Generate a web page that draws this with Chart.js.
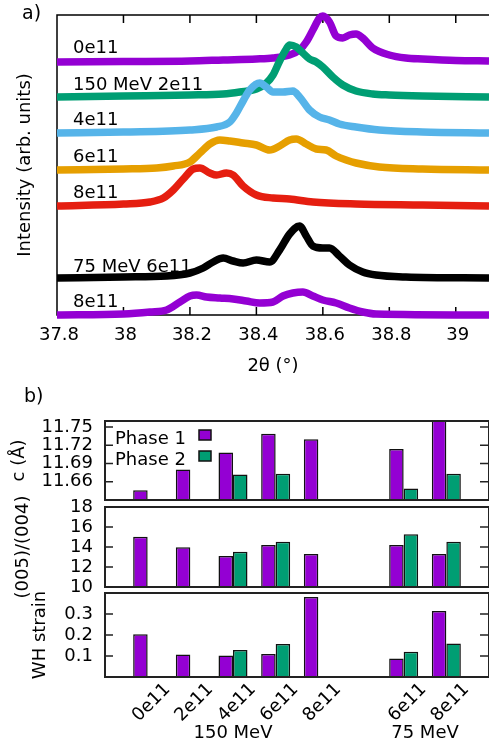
<!DOCTYPE html>
<html><head><meta charset="utf-8">
<script src="https://cdn.jsdelivr.net/npm/chart.js@4/dist/chart.umd.min.js"></script>
<style>
html,body{margin:0;padding:0;background:#fff;}
#wrap{position:relative;width:489px;height:744px;overflow:hidden;background:#fff;}
canvas{position:absolute;left:0;}
</style></head><body>
<div id="wrap">
<canvas id="cA" style="top:0px" width="489" height="380"></canvas>
<canvas id="cB1" style="top:380px" width="489" height="364"></canvas>
<canvas id="cB2" style="top:380px" width="489" height="364"></canvas>
<canvas id="cB3" style="top:380px" width="489" height="364"></canvas>
</div>
<script>
// ---------- panel a) data: [2theta, intensity above own baseline] ----------
const xrd_150_0e11 = [[37.8,0],[38.0,0.5],[38.2,1],[38.3,2],[38.4,3],[38.45,4],[38.5,7],[38.53,12],[38.55,20],[38.57,32],[38.59,44],[38.6,46],[38.62,40],[38.64,26],[38.66,24],[38.68,27],[38.7,28],[38.72,24],[38.75,14],[38.8,7],[38.85,4],[38.9,3],[39.0,1.5],[39.1,1]];
const xrd_150_2e11 = [[37.8,0],[38.0,1],[38.2,2],[38.3,3],[38.35,5],[38.4,8],[38.43,14],[38.45,22],[38.47,36],[38.49,48],[38.5,52],[38.52,50],[38.54,44],[38.56,38],[38.58,35],[38.6,30],[38.63,20],[38.66,12],[38.7,6],[38.75,3],[38.8,2],[38.9,1],[39.1,0]];
const xrd_150_4e11 = [[37.8,0],[38.0,1],[38.2,3],[38.28,6],[38.32,11],[38.34,20],[38.36,32],[38.38,43],[38.41,50],[38.43,46],[38.45,41],[38.48,41],[38.51,42],[38.53,36],[38.56,23],[38.59,16],[38.62,13],[38.65,9],[38.7,6],[38.77,3],[38.9,1],[39.1,0]];
const xrd_150_6e11 = [[37.8,0],[38.0,1],[38.1,2],[38.15,4],[38.2,8],[38.23,17],[38.26,26],[38.29,30],[38.32,29],[38.36,27],[38.4,25],[38.44,20],[38.47,24],[38.5,30],[38.52,31],[38.55,26],[38.58,21],[38.61,20],[38.64,14],[38.67,10],[38.7,7],[38.77,3],[38.9,1],[39.1,0]];
const xrd_150_8e11 = [[37.8,0],[38.0,2],[38.08,4],[38.12,8],[38.15,16],[38.18,27],[38.21,37],[38.23,38],[38.26,33],[38.28,31],[38.31,33],[38.33,31],[38.36,20],[38.4,11],[38.45,8],[38.5,7],[38.57,4],[38.7,2],[38.9,1],[39.1,0]];
const xrd_75_6e11 = [[37.8,0],[38.0,1],[38.13,2],[38.2,5],[38.24,10],[38.27,16],[38.3,20],[38.33,17],[38.36,15],[38.4,18],[38.44,16],[38.47,28],[38.5,44],[38.53,52],[38.55,42],[38.57,32],[38.6,30],[38.62,30],[38.65,22],[38.68,13],[38.72,6],[38.76,3],[38.85,1],[39.1,0]];
const xrd_75_8e11 = [[37.8,0],[38.0,1],[38.08,3],[38.13,5],[38.17,13],[38.2,19],[38.22,20],[38.25,18],[38.29,17],[38.33,16],[38.37,14],[38.41,12],[38.45,13],[38.48,19],[38.51,22],[38.54,23],[38.57,19],[38.6,15],[38.64,12],[38.68,7],[38.72,3],[38.76,1],[39.1,0]];
const curves = [xrd_150_0e11, xrd_150_2e11, xrd_150_4e11, xrd_150_6e11, xrd_150_8e11, xrd_75_6e11, xrd_75_8e11];
const curveOffsets = [253, 218, 182, 145, 109, 37, 0];
const curveLabels = ['0e11', '150 MeV 2e11', '4e11', '6e11', '8e11', '75 MeV 6e11', '8e11'];
const curveColors = ['#9400d3', '#009e73', '#56b4e9', '#e69f00', '#e51e10', '#000000', '#9400d3'];
const xTicksA = [37.8, 38, 38.2, 38.4, 38.6, 38.8, 39];

// ---------- panel b) data ----------
const categories = ['', '0e11', '2e11', '4e11', '6e11', '8e11', '', '6e11', '8e11', ''];
const c_phase1 = [null, 11.646, 11.680, 11.708, 11.739, 11.730, null, 11.714, 11.768, null];
const c_phase2 = [null, null, null, 11.672, 11.673, null, null, 11.649, 11.673, null];
const ratio_phase1 = [null, 15.03, 13.97, 13.1, 14.2, 13.3, null, 14.2, 13.3, null];
const ratio_phase2 = [null, null, null, 13.53, 14.53, null, null, 15.27, 14.53, null];
const wh_phase1 = [null, 0.203, 0.107, 0.102, 0.109, 0.381, null, 0.088, 0.314, null];
const wh_phase2 = [null, null, null, 0.128, 0.157, null, null, 0.12, 0.16, null];
const cTicks = [11.66, 11.69, 11.72, 11.75];
const ratioTicks = [10, 12, 14, 16, 18];
const whTicks = [0.1, 0.2, 0.3];
const groupLabels = [['150 MeV', 3], ['75 MeV', 7.5]];

const PURPLE = '#9400d3', GREEN = '#009e73';
const FONT = '"DejaVu Sans", sans-serif';
Chart.defaults.font.family = FONT;
Chart.defaults.font.size = 18;
Chart.defaults.color = '#000';

// ---------- panel a) ----------
const frameA = {
  id: 'frameA',
  beforeDatasetsDraw(chart) {
    const {ctx, chartArea: a, scales: {x}} = chart;
    ctx.save();
    ctx.strokeStyle = '#000'; ctx.lineWidth = 1.5;
    ctx.beginPath();
    ctx.moveTo(a.right, a.top); ctx.lineTo(a.left, a.top); ctx.lineTo(a.left, a.bottom); ctx.lineTo(a.right, a.bottom);
    x.ticks.forEach(t => {
      const px = x.getPixelForValue(t.value);
      ctx.moveTo(px, a.bottom); ctx.lineTo(px, a.bottom - 8);
      ctx.moveTo(px, a.top); ctx.lineTo(px, a.top + 8);
    });
    ctx.stroke();
    ctx.restore();
  },
  afterDraw(chart) {
    const {ctx} = chart;
    const ys = [53, 90, 125, 162, 198, 272, 307];
    ctx.save();
    ctx.fillStyle = '#000'; ctx.font = '18px ' + FONT; ctx.textBaseline = 'alphabetic'; ctx.textAlign = 'left';
    curveLabels.forEach((s, i) => ctx.fillText(s, 73, ys[i]));
    ctx.font = '19px ' + FONT;
    ctx.fillText('a)', 22, 19);
    ctx.restore();
  }
};

new Chart(document.getElementById('cA'), {
  type: 'line',
  data: {
    datasets: curves.map((c, i) => ({
      data: c.map(p => ({x: p[0], y: p[1] + curveOffsets[i]})),
      borderColor: curveColors[i],
      borderWidth: 7.5,
      pointRadius: 0,
      cubicInterpolationMode: 'monotone',
      clip: false,
      order: curves.length - i
    }))
  },
  options: {
    responsive: false, animation: false,
    layout: {padding: {top: 15, right: 0, bottom: 0, left: 0}},
    plugins: {legend: {display: false}, tooltip: {enabled: false}},
    scales: {
      x: {
        type: 'linear', min: 37.8, max: 39.1,
        afterBuildTicks: s => { s.ticks = xTicksA.map(v => ({value: v})); },
        afterFit: s => { s.height = 65; s.paddingLeft = 0; s.paddingRight = 0; },
        ticks: {callback: v => String(v), padding: 10, labelOffset: 2, font: {size: 18}, maxRotation: 0, autoSkip: false, color: '#000'},
        grid: {display: false, drawTicks: false},
        border: {display: false},
        title: {display: true, text: '2θ (°)', font: {size: 18}, padding: {top: 0, bottom: 3}, color: '#000'}
      },
      y: {
        type: 'linear', min: 0, max: 300,
        afterFit: s => { s.width = 57; },
        ticks: {display: false},
        grid: {display: false, drawTicks: false},
        border: {display: false},
        title: {display: true, text: 'Intensity (arb. units)', font: {size: 18}, padding: {top: 15, bottom: 0}, color: '#000'}
      }
    }
  },
  plugins: [frameA]
});

// ---------- panel b) ----------
function framePlugin(extra) {
  return {
    id: 'frameB',
    afterDatasetsDraw(chart) {
      const {ctx, chartArea: a, scales: {y}} = chart;
      ctx.save();
      ctx.strokeStyle = '#222'; ctx.lineWidth = 2;
      ctx.strokeRect(a.left, a.top, a.right - a.left, a.bottom - a.top);
      ctx.lineWidth = 1.5;
      ctx.beginPath();
      y.ticks.forEach(t => {
        const py = y.getPixelForValue(t.value);
        ctx.moveTo(a.left, py); ctx.lineTo(a.left + 8, py);
        ctx.moveTo(a.right, py); ctx.lineTo(a.right - 9, py);
      });
      ctx.stroke();
      ctx.restore();
    },
    afterDraw(chart) { if (extra) extra(chart); }
  };
}

function makeBars(id, p1, p2, yMin, yMax, yTicks, fmt, title, titlePad, padTop, padBottom, showX, extra) {
  new Chart(document.getElementById(id), {
    type: 'bar',
    data: {
      labels: categories,
      datasets: [
        {label: 'Phase 1', data: p1, backgroundColor: PURPLE, borderColor: '#111', borderWidth: 1.5, base: yMin, categoryPercentage: 0.68, barPercentage: 1.0},
        {label: 'Phase 2', data: p2, backgroundColor: GREEN, borderColor: '#111', borderWidth: 1.5, base: yMin, categoryPercentage: 0.68, barPercentage: 1.0}
      ]
    },
    options: {
      responsive: false, animation: false,
      layout: {padding: {top: padTop, right: 0, bottom: padBottom, left: 0}},
      plugins: {legend: {display: false}, tooltip: {enabled: false}},
      scales: {
        x: {
          type: 'category', offset: false, display: showX,
          afterFit: s => { if (showX) s.height = 67; s.paddingLeft = 0; s.paddingRight = 0; },
          ticks: {autoSkip: false, minRotation: 45, maxRotation: 45, padding: 2, labelOffset: 20, font: {size: 18}, color: '#000'},
          grid: {display: false, drawTicks: false},
          border: {display: false}
        },
        y: {
          type: 'linear', min: yMin, max: yMax,
          afterBuildTicks: s => { s.ticks = yTicks.map(v => ({value: v})); },
          afterFit: s => { s.width = 105; s.paddingTop = 0; s.paddingBottom = 0; },
          ticks: {callback: fmt, padding: 12, autoSkip: false, font: {size: 18}, color: '#000'},
          grid: {display: false, drawTicks: false},
          border: {display: false},
          title: {display: true, text: title, font: {size: 18}, padding: {top: titlePad, bottom: 0}, color: '#000'}
        }
      }
    },
    plugins: [framePlugin(extra)]
  });
}

makeBars('cB1', c_phase1, c_phase2, 11.63, 11.76, cTicks, v => v.toFixed(2), 'c (Å)', 9, 41, 244, false, chart => {
  const {ctx} = chart;
  ctx.save();
  ctx.font = '18px ' + FONT; ctx.fillStyle = '#000'; ctx.textBaseline = 'alphabetic';
  ctx.fillText('Phase 1', 115, 64);
  ctx.fillText('Phase 2', 115, 85);
  ctx.lineWidth = 1.5; ctx.strokeStyle = '#111';
  ctx.fillStyle = PURPLE; ctx.fillRect(199, 50, 12, 10); ctx.strokeRect(199, 50, 12, 10);
  ctx.fillStyle = GREEN; ctx.fillRect(199, 71, 12, 10); ctx.strokeRect(199, 71, 12, 10);
  ctx.fillStyle = '#000'; ctx.font = '19px ' + FONT;
  ctx.fillText('b)', 24, 22);
  ctx.restore();
});
makeBars('cB2', ratio_phase1, ratio_phase2, 10, 18, ratioTicks, v => String(v), '(005)/(004)', 13, 127, 157, false, null);
makeBars('cB3', wh_phase1, wh_phase2, 0, 0.4, whTicks, v => v.toFixed(1), 'WH strain', 30, 213, 0, true, chart => {
  const {ctx, scales: {x}} = chart;
  ctx.save();
  ctx.font = '18px ' + FONT; ctx.fillStyle = '#000'; ctx.textAlign = 'center'; ctx.textBaseline = 'middle';
  groupLabels.forEach(g => ctx.fillText(g[0], x.getPixelForValue(g[1]), 353));
  ctx.restore();
});
</script>
</body></html>
